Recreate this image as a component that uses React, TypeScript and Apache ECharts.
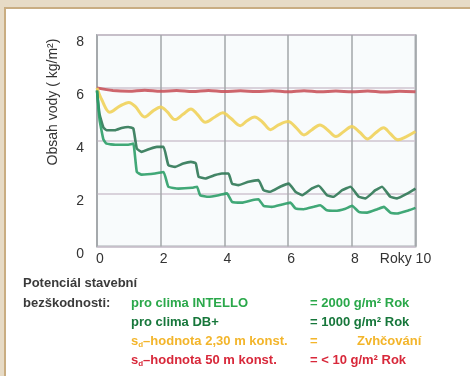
import React, { useEffect, useRef } from "react";
import * as echarts from "echarts";

// ---- data ----
const X_TICKS = [0, 2, 4, 6, 8, 10];
const Y_TICKS = [0, 2, 4, 6, 8];

const RED_T = [0, 0.5, 1, 1.5, 2, 2.5, 3, 3.5, 4, 4.5, 5, 5.5, 6, 6.5, 7, 7.5, 8, 8.5, 9, 9.5, 10];
const RED_V = [6.0, 5.9, 5.87, 5.91, 5.87, 5.9, 5.86, 5.9, 5.86, 5.89, 5.86, 5.89, 5.85, 5.89, 5.85, 5.88, 5.85, 5.88, 5.84, 5.87, 5.85];

const YEL_T = [0, 0.15, 0.4, 0.7, 1.0, 1.2, 1.5, 1.75, 2.0, 2.2, 2.45, 2.7, 2.95, 3.15, 3.4, 3.7, 3.95, 4.2, 4.5, 4.7, 4.95, 5.2, 5.45, 5.7, 6.0, 6.25, 6.5, 6.75, 7.0, 7.25, 7.5, 7.75, 8.0, 8.25, 8.5, 8.75, 9.0, 9.2, 9.45, 9.7, 10];
const YEL_V = [6.0, 5.55, 5.08, 5.3, 5.45, 5.3, 4.9, 5.12, 5.28, 5.1, 4.8, 5.0, 5.2, 5.0, 4.7, 4.9, 5.06, 4.85, 4.57, 4.75, 4.9, 4.7, 4.42, 4.6, 4.73, 4.5, 4.22, 4.42, 4.6, 4.4, 4.16, 4.35, 4.54, 4.32, 4.07, 4.3, 4.49, 4.28, 4.04, 4.15, 4.35];

const DB_T = [0, 0.08, 0.2, 0.3, 0.57, 0.77, 0.98, 1.14, 1.25, 1.4, 1.67, 1.88, 2.09, 2.24, 2.45, 2.71, 2.95, 3.1, 3.19, 3.4, 3.71, 3.92, 4.13, 4.24, 4.44, 4.76, 5.07, 5.23, 5.44, 5.75, 6.02, 6.23, 6.44, 6.75, 6.96, 7.22, 7.43, 7.7, 7.96, 8.22, 8.43, 8.74, 8.95, 9.21, 9.42, 9.74, 10];
const DB_V = [5.9, 5.0, 4.5, 4.4, 4.4, 4.48, 4.52, 4.46, 3.7, 3.58, 3.7, 3.77, 3.77, 3.08, 3.01, 3.14, 3.2, 3.15, 2.64, 2.57, 2.7, 2.76, 2.76, 2.38, 2.32, 2.45, 2.51, 2.13, 2.07, 2.26, 2.38, 2.07, 1.94, 2.2, 2.3, 1.94, 1.88, 2.13, 2.26, 1.88, 1.82, 2.13, 2.26, 1.88, 1.82, 2.0, 2.19];

const INT_T = [0, 0.08, 0.2, 0.3, 0.57, 0.98, 1.14, 1.25, 1.4, 1.82, 2.09, 2.24, 2.56, 2.98, 3.14, 3.24, 3.5, 3.82, 4.08, 4.24, 4.55, 4.86, 5.07, 5.23, 5.49, 5.81, 6.07, 6.23, 6.49, 6.8, 7.01, 7.22, 7.48, 7.8, 8.01, 8.22, 8.48, 8.8, 9.01, 9.21, 9.42, 9.79, 10];
const INT_V = [5.9, 4.8, 4.05, 3.89, 3.85, 3.85, 3.89, 2.82, 2.72, 2.76, 2.82, 2.26, 2.19, 2.22, 2.26, 1.94, 1.88, 1.94, 2.01, 1.69, 1.66, 1.75, 1.79, 1.54, 1.5, 1.59, 1.66, 1.44, 1.41, 1.5, 1.56, 1.37, 1.35, 1.43, 1.54, 1.31, 1.28, 1.41, 1.5, 1.28, 1.25, 1.37, 1.46];

const Y_NAME = "Obsah vody ( kg/m²)";
const X_END_LABEL = "Roky";
const TITLE_1 = "Potenciál stavební";
const TITLE_2 = "bezškodnosti:";
const LEG_NAMES = ["pro clima INTELLO", "pro clima DB+", "–hodnota 2,30 m konst.", "–hodnota 50 m konst."];
const LEG_VALUES = ["= 2000 g/m² Rok", "= 1000 g/m² Rok", "=", "= < 10 g/m² Rok"];
const ZVHC = "Zvhčování";

const zip = (t: number[], v: number[]) => t.map((x, i) => [x, v[i]]);

const FONT = "'Liberation Sans', Arial, sans-serif";

export default function App() {
  const ref = useRef<HTMLDivElement>(null);
  useEffect(() => {
    if (!ref.current) return;
    const chart = echarts.init(ref.current, undefined, { renderer: "svg" });
    const lineSeries = (name: string, data: number[][], color: string, width: number, smooth: number) => ({
      name,
      type: "line",
      data,
      smooth,
      showSymbol: false,
      symbol: "none",
      lineStyle: { color, width, opacity: 0.9 },
      z: 3,
    });
    const legRowY = [302, 321, 340, 359];
    const legColors = ["#2aa84a", "#17773b", "#f3b52a", "#d8283a"];
    const graphic: any[] = [
      // beige frame
      { type: "rect", shape: { x: 0, y: 0, width: 470, height: 376 }, style: { fill: "#e7dbc6" }, z: -10, silent: true },
      { type: "rect", shape: { x: 4, y: 7, width: 470, height: 380 }, style: { fill: "#c9ad82" }, z: -9, silent: true },
      { type: "rect", shape: { x: 6, y: 9, width: 470, height: 380 }, style: { fill: "#ffffff" }, z: -8, silent: true },
      // y-axis name
      {
        type: "text",
        x: 52,
        y: 102,
        rotation: Math.PI / 2,
        style: { text: Y_NAME, font: `14px ${FONT}`, fill: "#333333", align: "center", verticalAlign: "middle" },
        z: 10,
      },
      { type: "text", x: 23, y: 282, style: { text: TITLE_1, font: `bold 13px ${FONT}`, fill: "#3a3a3a", verticalAlign: "middle" }, z: 10 },
      { type: "text", x: 23, y: 302, style: { text: TITLE_2, font: `bold 13px ${FONT}`, fill: "#3a3a3a", verticalAlign: "middle" }, z: 10 },
    ];
    LEG_NAMES.forEach((n, i) => {
      const c = legColors[i];
      if (i >= 2) {
        graphic.push({
          type: "text",
          x: 131,
          y: legRowY[i],
          style: {
            text: `{s|s}{d|d}{t|${n}}`,
            verticalAlign: "middle",
            rich: {
              s: { font: `bold 13px ${FONT}`, fill: c },
              d: { font: `bold 8px ${FONT}`, fill: c, padding: [9, 0, 0, 0] },
              t: { font: `bold 13px ${FONT}`, fill: c },
            },
          },
          z: 10,
        });
      } else {
        graphic.push({ type: "text", x: 131, y: legRowY[i], style: { text: n, font: `bold 13px ${FONT}`, fill: c, verticalAlign: "middle" }, z: 10 });
      }
      graphic.push({ type: "text", x: 310, y: legRowY[i], style: { text: LEG_VALUES[i], font: `bold 13px ${FONT}`, fill: c, verticalAlign: "middle" }, z: 10 });
    });
    graphic.push({ type: "text", x: 357, y: legRowY[2], style: { text: ZVHC, font: `bold 13px ${FONT}`, fill: legColors[2], verticalAlign: "middle" }, z: 10 });

    chart.setOption({
      animation: false,
      backgroundColor: "transparent",
      textStyle: { fontFamily: FONT },
      grid: {
        left: 97,
        top: 35,
        right: 470 - 415.5,
        bottom: 376 - 246.5,
        show: true,
        backgroundColor: "#f8fbfc",
        borderColor: "#aab0b4",
        borderWidth: 2,
      },
      xAxis: {
        type: "value",
        min: X_TICKS[0],
        max: X_TICKS[X_TICKS.length - 1],
        interval: 2,
        axisLine: { show: false },
        axisTick: { show: false },
        splitLine: { show: true, lineStyle: { color: "#a3a7aa", width: 1.5 } },
        axisLabel: {
          color: "#333333",
          fontSize: 14,
          margin: 4,
          showMaxLabel: true,
          formatter: (v: number) => (v === 10 ? `{r|${X_END_LABEL} ${v}}` : `{n|${v}}`),
          rich: {
            r: { fontSize: 14, color: "#333333", padding: [0, 20, 0, 0] },
            n: { fontSize: 14, color: "#333333", padding: [0, 0, 0, 6] },
          },
        },
      },
      yAxis: {
        type: "value",
        min: Y_TICKS[0],
        max: Y_TICKS[Y_TICKS.length - 1],
        interval: 2,
        axisLine: { show: false },
        axisTick: { show: false },
        splitLine: { show: true, lineStyle: { color: "#cfc5d1", width: 1.5 } },
        axisLabel: { color: "#333333", fontSize: 14, margin: 13, verticalAlign: "top", lineHeight: 12 },
      },
      graphic,
      series: [
        lineSeries("s_d 50 m", zip(RED_T, RED_V), "#c9545c", 3, 0.3),
        lineSeries("s_d 2,30 m", zip(YEL_T, YEL_V), "#f0d25a", 3, 0.35),
        lineSeries("DB+", zip(DB_T, DB_V), "#2f7855", 2.6, 0.12),
        lineSeries("INTELLO", zip(INT_T, INT_V), "#2c9f68", 2.6, 0.12),
      ],
    });
    return () => chart.dispose();
  }, []);
  return <div ref={ref} style={{ position: "fixed", left: 0, top: 0, width: 470, height: 376 }} />;
}
